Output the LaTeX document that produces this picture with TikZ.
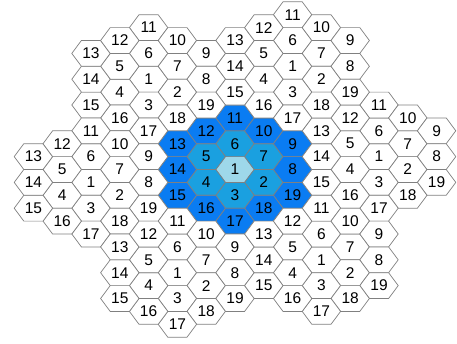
\documentclass[tikz,border=0pt]{standalone}
\usepackage{fontspec}
\setmainfont{Liberation Sans}
\definecolor{cA}{HTML}{9ED8EA}
\definecolor{cB}{HTML}{1AA0E0}
\definecolor{cC}{HTML}{0A7CF2}
\definecolor{edgegray}{HTML}{808080}
\tikzset{
  hexcell/.style={draw=edgegray, line width=0.7pt, line join=miter},
  hexlabel/.style={font=\fontsize{15.5}{15.5}\selectfont, inner sep=0pt, text=black}
}
\begin{document}
\begin{tikzpicture}[x=1pt,y=-1pt]
\useasboundingbox (0,0) rectangle (457,343);
\foreach \ci/\cc/\cy in {1/0/0, 2/5/0.5, 3/2/4, 4/-3/3.5, 5/-5/-0.5, 6/-2/-4, 7/3/-3.5} {
  \foreach \n/\qc/\qy in {1/0/0, 6/0/1, 7/1/0.5, 2/1/-0.5, 3/0/-1, 4/-1/-0.5, 5/-1/0.5,
      11/0/2, 10/1/1.5, 9/2/1, 8/2/0, 19/2/-1, 18/1/-1.5, 17/0/-2, 16/-1/-1.5,
      15/-2/-1, 14/-2/0, 13/-2/1, 12/-1/1.5} {
    \pgfmathsetmacro\X{235+(\cc+\qc)*28.8}
    \pgfmathsetmacro\Y{169.5-(\cy+\qy)*25.8}
    \ifnum\ci=1
      \ifnum\n=1 \def\fc{cA}\else\ifnum\n<8 \def\fc{cB}\else\def\fc{cC}\fi\fi
    \else
      \def\fc{white}
    \fi
    \draw[hexcell, fill=\fc] (\X-19.2,\Y) -- (\X-9.6,\Y-12.9) -- (\X+9.6,\Y-12.9)
      -- (\X+19.2,\Y) -- (\X+9.6,\Y+12.9) -- (\X-9.6,\Y+12.9) -- cycle;
    \node[hexlabel] (h\ci-\n) at (\X,\Y) {\n};
  }
}
\end{tikzpicture}
\end{document}
